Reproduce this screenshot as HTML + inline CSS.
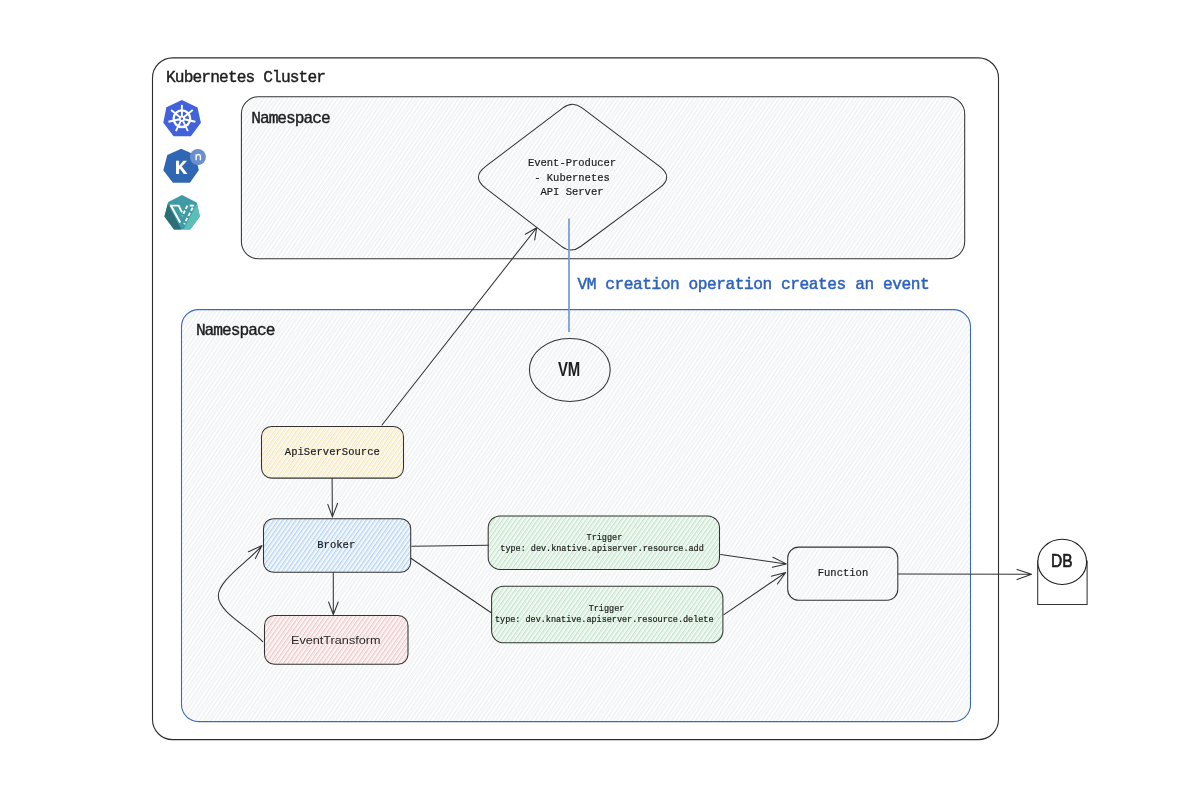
<!DOCTYPE html>
<html><head><meta charset="utf-8">
<style>
html,body{margin:0;padding:0;background:#fff;width:1185px;height:808px;overflow:hidden}
svg{display:block;will-change:transform}
text{font-family:"Liberation Mono",monospace;fill:#1e1e1e}
.big{stroke:#1e1e1e;stroke-width:0.4}
.sm{stroke:#1e1e1e;stroke-width:0.2}
.hand{font-family:"Liberation Sans",sans-serif}
</style></head><body>
<svg width="1185" height="808" viewBox="0 0 1185 808">
<defs>
<pattern id="hg" width="3.2" height="10" patternUnits="userSpaceOnUse" patternTransform="rotate(35)"><rect width="3.2" height="10" fill="#fefefe"/><rect width="1" height="10" fill="#eef0f2"/></pattern>
<pattern id="hy" width="3.6" height="10" patternUnits="userSpaceOnUse" patternTransform="rotate(35)"><rect width="3.6" height="10" fill="#fefefe"/><rect width="1.2" height="10" fill="#fbe6a2"/><rect x="1.8" width="0.8" height="10" fill="#eceef1"/></pattern>
<pattern id="hb" width="3.6" height="10" patternUnits="userSpaceOnUse" patternTransform="rotate(35)"><rect width="3.6" height="10" fill="#fefefe"/><rect width="1.4" height="10" fill="#b3d7f7"/><rect x="1.8" width="0.8" height="10" fill="#eceef1"/></pattern>
<pattern id="hr" width="3.6" height="10" patternUnits="userSpaceOnUse" patternTransform="rotate(35)"><rect width="3.6" height="10" fill="#fefefe"/><rect width="1.35" height="10" fill="#f5c6c6"/><rect x="1.8" width="0.8" height="10" fill="#eceef1"/></pattern>
<pattern id="hgr" width="3.6" height="10" patternUnits="userSpaceOnUse" patternTransform="rotate(35)"><rect width="3.6" height="10" fill="#fefefe"/><rect width="1.35" height="10" fill="#bce9c3"/><rect x="1.8" width="0.8" height="10" fill="#eceef1"/></pattern>
<pattern id="hg2" width="4.3" height="10" patternUnits="userSpaceOnUse" patternTransform="rotate(31)"><rect width="1" height="10" fill="#e9ecf0" fill-opacity="0.55"/></pattern>
</defs>

<!-- Cluster -->
<rect x="152.5" y="57.9" width="846" height="681.7" rx="20" fill="#fff" stroke="#2e2e2e" stroke-width="1.1"/>
<text x="166" y="81.7" class="big" font-size="16.2" textLength="160" lengthAdjust="spacing">Kubernetes Cluster</text>

<!-- top namespace -->
<rect x="241.4" y="96.8" width="723.3" height="162" rx="17" fill="url(#hg)" stroke="#333" stroke-width="1.05"/>
<rect x="242.4" y="97.8" width="721.3" height="160" rx="16" fill="url(#hg2)"/>
<text x="251.2" y="122.5" class="big" font-size="16.2" textLength="79.5" lengthAdjust="spacing">Namespace</text>

<!-- bottom namespace -->
<rect x="181.5" y="309.6" width="789" height="412" rx="17" fill="url(#hg)" stroke="#3869bd" stroke-width="1.1"/>
<rect x="182.5" y="310.6" width="787" height="410" rx="16" fill="url(#hg2)"/>
<text x="195.9" y="334.7" class="big" font-size="16.2" textLength="79.5" lengthAdjust="spacing">Namespace</text>

<!-- diamond -->
<path d="M562.94,107.85 Q572.5,100.6 582.08,107.84 L659.54,166.35 Q673.9,177.2 659.45,187.95 L580.64,246.54 Q571,253.7 561.48,246.39 L485.57,188.15 Q471.3,177.2 485.65,166.33 Z" fill="none" stroke="#333" stroke-width="1.05"/>
<text x="572" y="166.2" class="sm" font-size="10.5" text-anchor="middle">Event-Producer</text>
<text x="572" y="180.6" class="sm" font-size="10.5" text-anchor="middle">- Kubernetes</text>
<text x="572" y="195.2" class="sm" font-size="10.5" text-anchor="middle">API Server</text>

<!-- blue line + text -->
<line x1="569" y1="218.5" x2="569" y2="332" stroke="#6f9bd9" stroke-width="1.7"/>
<text x="577.6" y="288.8" class="big" font-size="16.2" textLength="352" lengthAdjust="spacing" style="fill:#2d62bf;stroke:#2d62bf;stroke-width:0.45">VM creation operation creates an event</text>

<!-- VM -->
<ellipse cx="569.8" cy="369.9" rx="40.4" ry="31.5" fill="none" stroke="#333" stroke-width="1.05"/>
<text x="557.9" y="375.7" font-size="19.8" font-weight="bold" textLength="22.4" lengthAdjust="spacingAndGlyphs" style="font-family:'Liberation Sans'">VM</text>

<!-- ApiServerSource -->
<rect x="261.5" y="426.5" width="142" height="51.6" rx="10" fill="url(#hy)" stroke="#333" stroke-width="1.05"/>
<text x="284.8" y="454.9" class="sm" font-size="10.5" textLength="95" lengthAdjust="spacing">ApiServerSource</text>

<!-- Broker -->
<rect x="263.5" y="518.7" width="147.2" height="53.6" rx="10" fill="url(#hb)" stroke="#333" stroke-width="1.05"/>
<text x="317.2" y="548.1" class="sm" font-size="10.5" textLength="38" lengthAdjust="spacing">Broker</text>

<!-- EventTransform -->
<rect x="264.5" y="615.4" width="143.5" height="48.8" rx="10" fill="url(#hr)" stroke="#333" stroke-width="1.05"/>
<text class="hand" x="291" y="644" font-size="10.4" textLength="89.5" lengthAdjust="spacingAndGlyphs" style="fill:#2a2a2a">EventTransform</text>

<!-- Trigger add -->
<rect x="488.2" y="515.9" width="231.3" height="53.6" rx="12" fill="url(#hgr)" stroke="#333" stroke-width="1.05"/>
<text x="604.4" y="539.8" class="sm" font-size="8.5" text-anchor="middle">Trigger</text>
<text x="500.3" y="551.2" class="sm" font-size="8.5" textLength="203.5" lengthAdjust="spacing">type: dev.knative.apiserver.resource.add</text>

<!-- Trigger delete -->
<rect x="491.6" y="586.3" width="231.3" height="56.5" rx="12" fill="url(#hgr)" stroke="#333" stroke-width="1.05"/>
<text x="606.5" y="611" class="sm" font-size="8.5" text-anchor="middle">Trigger</text>
<text x="495" y="622" class="sm" font-size="8.5" textLength="218.5" lengthAdjust="spacing">type: dev.knative.apiserver.resource.delete</text>

<!-- Function -->
<rect x="787.7" y="547.1" width="110.1" height="53.2" rx="11" fill="none" stroke="#333" stroke-width="1.05"/>
<text x="817.7" y="575.8" class="sm" font-size="10.5" textLength="50.5" lengthAdjust="spacing">Function</text>

<!-- DB -->
<path d="M1037.7,560.5 L1037.7,604.4 L1087.1,604.4 L1087.1,560.5" fill="none" stroke="#333" stroke-width="1.05"/>
<ellipse cx="1062.2" cy="561.9" rx="24.4" ry="22.6" fill="#fff" stroke="#1e1e1e" stroke-width="1.1"/>
<text class="hand" x="1051" y="566.8" font-size="19" textLength="21.5" lengthAdjust="spacingAndGlyphs" style="stroke:#1e1e1e;stroke-width:0.7">DB</text>

<!-- arrows -->
<g fill="none" stroke="#333" stroke-width="1.05" stroke-linecap="round" stroke-linejoin="round">
<path d="M382,425 L536.7,227.7 M525.3,234.2 L536.7,227.7 L534.7,239.9"/>
<path d="M332.1,478.3 L332.4,516.9 M327.8,504.4 L332.4,516.9 L337.6,503.3"/>
<path d="M333.3,572.3 L333.3,614.5 M328.6,602 L333.3,614.5 L338.2,602"/>
<path d="M262.9,641.8 C248,626.5 218.45,612 218.3,596 C218.15,580 247.4,562.4 262,545.6 M248.5,551.7 L262,545.6 L255.4,558.6"/>
<path d="M411.9,546.3 L488.1,545.3"/>
<path d="M410.9,558.2 L491.6,613"/>
<path d="M720.6,554.5 L786.3,563.9 M772.9,557.3 L786.3,563.9 L772.4,567.3"/>
<path d="M723.9,614.6 L785.7,572.5 M771.2,576.2 L785.7,572.5 L777.4,584"/>
<path d="M898,574 L1031.6,574.2 M1017,569.5 L1031.6,574.2 L1017,579.5"/>
</g>

<!-- icons -->
<g>
<polygon points="181.9,100 197.5,107.5 200.9,122.8 190.9,136.2 173.6,136.2 163.3,122.8 166.35,107.2" fill="#4262dc"/>
<circle cx="181.9" cy="118.7" r="8.3" fill="none" stroke="#fff" stroke-width="2.3"/>
<g stroke="#fff" stroke-width="1.9" stroke-linecap="butt">
<line x1="181.9" y1="118.7" x2="181.9" y2="104.9"/>
<line x1="181.9" y1="118.7" x2="192.69" y2="110.1"/>
<line x1="181.9" y1="118.7" x2="195.35" y2="121.77"/>
<line x1="181.9" y1="118.7" x2="187.89" y2="131.13"/>
<line x1="181.9" y1="118.7" x2="175.91" y2="131.13"/>
<line x1="181.9" y1="118.7" x2="168.45" y2="121.77"/>
<line x1="181.9" y1="118.7" x2="171.11" y2="110.1"/>
</g>
<circle cx="181.9" cy="118.7" r="3" fill="#fff"/>
<circle cx="181.9" cy="118.7" r="1.2" fill="#4262dc"/>

<polygon points="181.2,148.7 195.4,154.9 198.8,170.3 189.9,182.7 172.9,182.7 163.3,170.3 167.3,154.9" fill="#2f67b3"/>
<path d="M176,160.7 H179.1 V165.8 L183.4,160.7 H187.1 L181.8,166.6 L187.6,174 H183.8 L179.9,168.7 L179.1,169.6 V174 H176 Z" fill="#fff"/>
<circle cx="197.9" cy="157" r="8" fill="#6b8fcc"/>
<path d="M196.1,160.2 V154.6 M196.1,156.4 Q196.9,154.5 198.5,154.5 Q200.4,154.5 200.4,156.6 V160.2" fill="none" stroke="#fff" stroke-width="1.35"/>

<polygon points="182,195.1 196.7,202.5 199.9,216.4 190.2,229.5 174,229.5 164.4,216.4 168.3,202" fill="#3e9ba6"/>
<polygon points="168.3,202 164.4,216.4 174,229.5 181.4,229.5 167.6,203.4" fill="#2c6d76"/>
<polygon points="197.1,203.6 199.9,216.4 190.2,229.5 183.6,229.5" fill="#5bbfb8"/>
<g stroke="#fff" fill="none" stroke-linecap="butt" stroke-linejoin="miter">
<path d="M170.2,205.6 L178.6,205.6 L182,212.2" stroke-width="1.9"/>
<path d="M171,205.8 L180.2,222.6" stroke-width="2"/>
<path d="M187.4,205.6 L182.2,216" stroke-width="1.9" stroke-dasharray="3.6,2"/>
<path d="M189.8,205.6 L194.2,205.6" stroke-width="1.9"/>
<path d="M193.6,205.8 L184.2,224.2" stroke-width="1.9" stroke-dasharray="3.6,2.2" stroke-dashoffset="-2"/>
</g>
</g>
</svg>
</body></html>
